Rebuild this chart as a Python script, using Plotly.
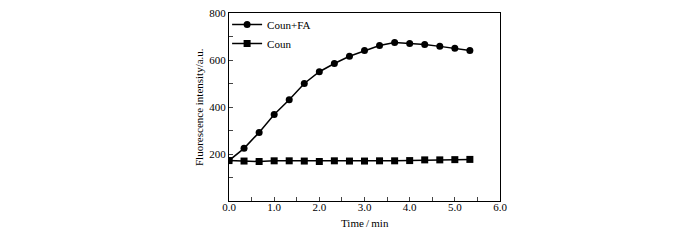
import plotly.graph_objects as go

time_min = [0.0, 0.333, 0.667, 1.0, 1.333, 1.667, 2.0, 2.333, 2.667, 3.0, 3.333, 3.667, 4.0, 4.333, 4.667, 5.0, 5.333]
coun_fa = [172, 224, 292, 368, 431, 500, 550, 585, 616, 640, 662, 674, 670, 666, 658, 650, 640]
coun = [172, 170, 168, 171, 171, 170, 168, 171, 170, 170, 171, 171, 172, 175, 175, 176, 177]

x_ticks = [i / 2 for i in range(13)]
x_labels = [f"{v:.1f}" if v == int(v) else "" for v in x_ticks]
y_ticks = [100, 200, 300, 400, 500, 600, 700, 800]
y_labels = ["", "200", "", "400", "", "600", "", "800"]

font = dict(family="Liberation Serif, Times New Roman, serif", size=11, color="black")

fig = go.Figure()
fig.add_trace(go.Scatter(x=time_min, y=coun_fa, mode="lines+markers", name="Coun+FA",
                         line=dict(color="black", width=1.5),
                         marker=dict(symbol="circle", size=7, color="black")))
fig.add_trace(go.Scatter(x=time_min, y=coun, mode="lines+markers", name="Coun",
                         line=dict(color="black", width=1.5),
                         marker=dict(symbol="square", size=7, color="black")))

fig.update_layout(
    width=700, height=240,
    margin=dict(l=221, r=208, t=5, b=47, autoexpand=False),
    paper_bgcolor="white", plot_bgcolor="white",
    font=font,
    showlegend=True,
    legend=dict(x=-0.007, y=1.016, xanchor="left", yanchor="top", bgcolor="rgba(0,0,0,0)",
                font=font, itemwidth=30, tracegroupgap=0),
    xaxis=dict(range=[0, 6], tickvals=x_ticks, ticktext=x_labels, ticks="inside", ticklen=4,
               showline=True, linecolor="black", linewidth=1, mirror=True, showgrid=False,
               zeroline=False, automargin=False, ticklabelstandoff=-4,
               ticklabeloverflow="allow"),
    yaxis=dict(range=[0, 800], tickvals=y_ticks, ticktext=y_labels, ticks="inside", ticklen=4,
               showline=True, linecolor="black", linewidth=1, mirror=True, showgrid=False,
               zeroline=False, automargin=False, ticklabeloverflow="allow"),
    annotations=[
        dict(text="Time\u2009/\u2009min", xref="paper", yref="paper", x=0.5, y=0,
             xanchor="center", yanchor="middle", yshift=-22, showarrow=False, font=font),
        dict(text="Fluorescence intensity/a.u.", xref="paper", yref="paper", x=0, y=0.5,
             xanchor="center", yanchor="middle", xshift=-30, textangle=-90,
             showarrow=False, font=font),
    ],
)
fig.write_html("out.html")
